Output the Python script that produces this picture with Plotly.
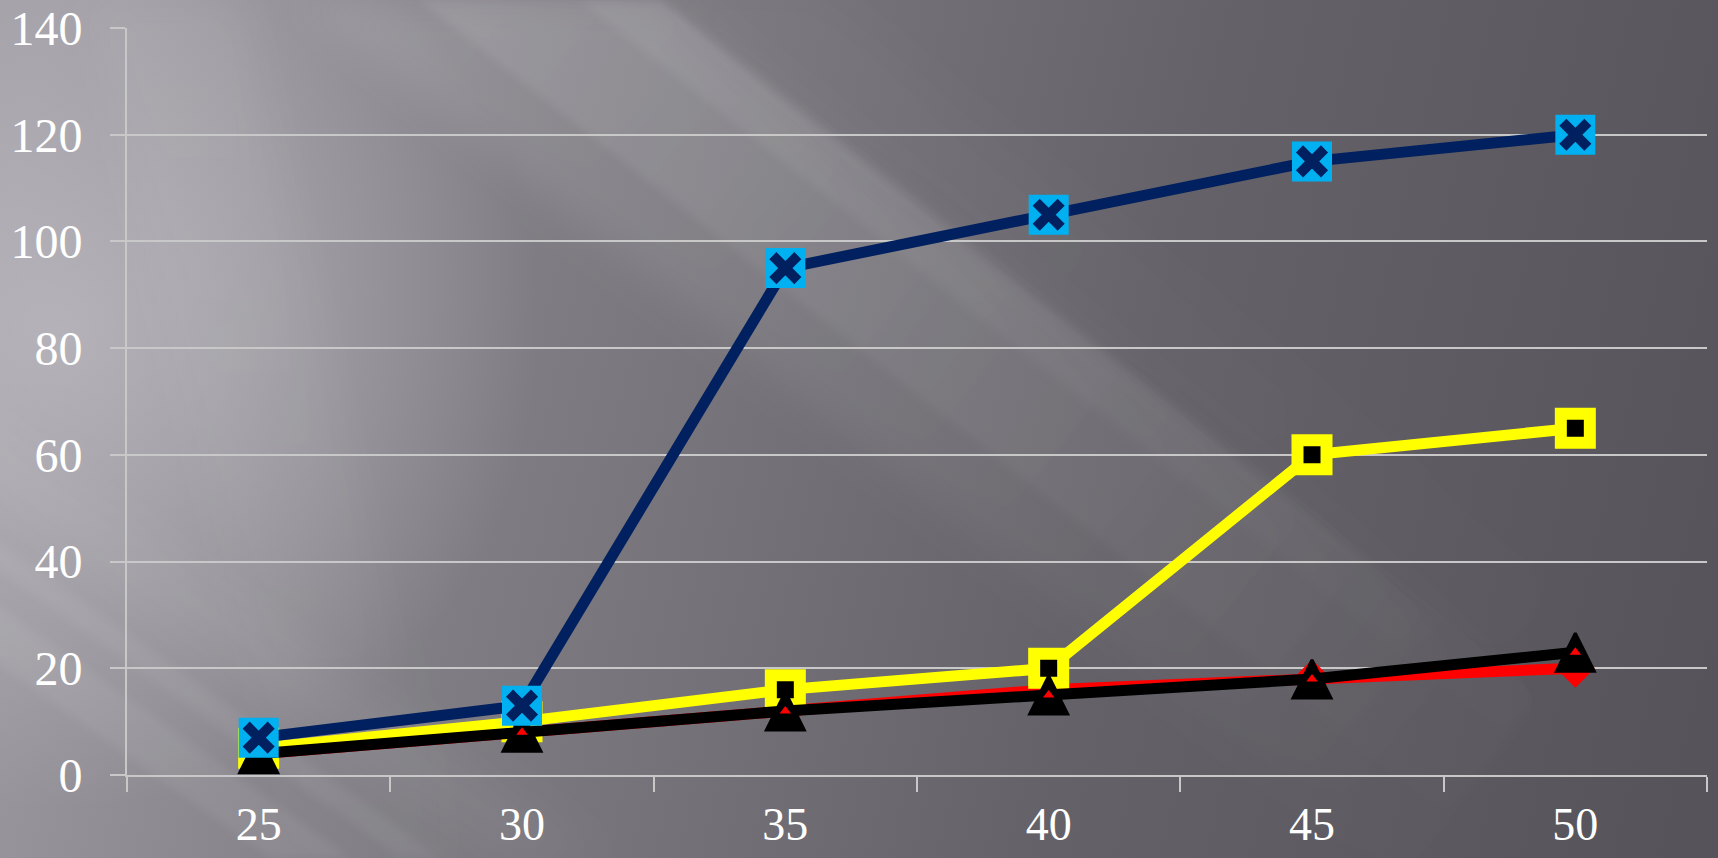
import base64
import plotly.graph_objects as go

categories = ["25", "30", "35", "40", "45", "50"]
navy_values = [7, 13, 95, 105, 115, 120]
yellow_values = [5, 10, 16, 20, 60, 65]
red_values = [4, 8, 12, 16, 18, 20]
black_values = [4, 8, 12, 15, 18, 23]
y_ticks = [0, 20, 40, 60, 80, 100, 120, 140]

W, H = 1718, 858
ML, MR, MT, MB = 127, 11, 28, 83

# background (gradient with diagonal light streaks)
def band(x0, x1, k, op, fill="#ffffff", blur="b"):
    pts = f"{x0},0 {x1},0 {x1 + k * H},{H} {x0 + k * H},{H}"
    return f"<polygon points='{pts}' fill='{fill}' fill-opacity='{op}' filter='url(#{blur})'/>"

svg = (
    f"<svg xmlns='http://www.w3.org/2000/svg' width='{W}' height='{H}'>"
    "<defs>"
    "<filter id='b' x='-20%' y='-20%' width='140%' height='140%'><feGaussianBlur stdDeviation='4'/></filter>"
    "<filter id='bb' x='-20%' y='-20%' width='140%' height='140%'><feGaussianBlur stdDeviation='20'/></filter>"
    "<linearGradient id='g' x1='0' y1='250' x2='1718' y2='650' gradientUnits='userSpaceOnUse'>"
    "<stop offset='0' stop-color='#9e9ca2'/>"
    "<stop offset='0.3' stop-color='#7f7d83'/>"
    "<stop offset='0.65' stop-color='#646268'/>"
    "<stop offset='1' stop-color='#56545a'/>"
    "</linearGradient>"
    "<radialGradient id='r' cx='60' cy='330' r='480' gradientUnits='userSpaceOnUse'>"
    "<stop offset='0' stop-color='#c0bec4' stop-opacity='0.7'/>"
    "<stop offset='1' stop-color='#c0bec4' stop-opacity='0'/>"
    "</radialGradient>"
    "<linearGradient id='fa' x1='500' y1='0' x2='1500' y2='800' gradientUnits='userSpaceOnUse'>"
    "<stop offset='0' stop-color='#ffffff' stop-opacity='1'/>"
    "<stop offset='0.55' stop-color='#ffffff' stop-opacity='0.5'/>"
    "<stop offset='1' stop-color='#ffffff' stop-opacity='0'/>"
    "</linearGradient>"
    "<linearGradient id='fl' x1='0' y1='0' x2='0' y2='858' gradientUnits='userSpaceOnUse'>"
    "<stop offset='0' stop-color='#ffffff' stop-opacity='1'/>"
    "<stop offset='1' stop-color='#ffffff' stop-opacity='0.2'/>"
    "</linearGradient>"
    "</defs>"
    f"<rect width='{W}' height='{H}' fill='url(#g)'/>"
    f"<rect width='{W}' height='{H}' fill='url(#r)'/>"
    # main bright diagonal band from the top
    + band(300, 660, 1.26, 0.10, "url(#fa)", "bb")
    + band(420, 660, 1.26, 0.08, "url(#fa)")
    + band(580, 662, 1.26, 0.07, "url(#fa)")
    + band(662, 820, 1.26, 0.03, "url(#fa)", "bb")
    # left steep light band
    + band(90, 240, 0.24, 0.06, "url(#fl)", "bb")
    # lower-left streaks
    + band(-930, -850, 1.4, 0.06)
    + band(-800, -760, 1.4, 0.05)
    + band(-700, -600, 1.4, 0.04, "#ffffff", "bb")
    + "</svg>"
)
bg_uri = "data:image/svg+xml;base64," + base64.b64encode(svg.encode()).decode()

NAVY = "#002060"
LIGHTBLUE = "#00B0F0"
YELLOW = "#FFFF00"
RED = "#FF0000"
BLACK = "#000000"
LW = 11

fig = go.Figure()

# red series
fig.add_trace(go.Scatter(
    x=categories, y=red_values, mode="lines+markers",
    line=dict(color=RED, width=LW),
    marker=dict(symbol="diamond", size=30, color=RED, line=dict(width=0)),
))
# yellow series
fig.add_trace(go.Scatter(
    x=categories, y=yellow_values, mode="lines+markers",
    line=dict(color=YELLOW, width=LW),
    marker=dict(symbol="square", size=29, color=BLACK, line=dict(color=YELLOW, width=12)),
))
# black series
fig.add_trace(go.Scatter(
    x=categories, y=black_values, mode="lines+markers",
    line=dict(color=BLACK, width=LW),
    marker=dict(symbol="arrow-down", size=38, angle=180, standoff=19, color=BLACK,
                line=dict(color=BLACK, width=3)),
))
fig.add_trace(go.Scatter(
    x=categories, y=black_values, mode="markers",
    marker=dict(symbol="triangle-up", size=10, color=RED, line=dict(width=0)),
))
# navy series
fig.add_trace(go.Scatter(
    x=categories, y=navy_values, mode="lines+markers",
    line=dict(color=NAVY, width=LW),
    marker=dict(symbol="square", size=36, color=LIGHTBLUE, line=dict(color=LIGHTBLUE, width=4)),
))
fig.add_trace(go.Scatter(
    x=categories, y=navy_values, mode="markers",
    marker=dict(symbol="x-thin-open", size=25, color=NAVY, line=dict(color=NAVY, width=10)),
))

FONT_FAMILY = "Liberation Serif, DejaVu Serif, serif"
GRID = "#c8c8c8"

fig.update_layout(
    width=W, height=H,
    margin=dict(l=ML, r=MR, t=MT, b=MB, pad=0, autoexpand=False),
    paper_bgcolor="rgba(0,0,0,0)",
    plot_bgcolor="rgba(0,0,0,0)",
    showlegend=False,
    images=[dict(
        source=bg_uri, xref="paper", yref="paper",
        x=-ML / (W - ML - MR), y=1 + MT / (H - MT - MB),
        sizex=W / (W - ML - MR), sizey=H / (H - MT - MB),
        xanchor="left", yanchor="top", sizing="stretch", layer="below",
    )],
    xaxis=dict(
        type="category", range=[-0.5, 5.5], automargin=False,
        showgrid=False, zeroline=False,
        showline=True, linecolor=GRID, linewidth=2,
        ticks="outside", ticklen=15, tickwidth=2, tickcolor=GRID,
        tickson="boundaries",
        tickfont=dict(family=FONT_FAMILY, size=46, color="#ffffff"),
        ticklabelstandoff=8,
    ),
    yaxis=dict(
        range=[0, 140], tickvals=y_ticks, automargin=False,
        showgrid=True, gridcolor=GRID, gridwidth=2,
        zeroline=False,
        showline=True, linecolor=GRID, linewidth=2,
        ticks="outside", ticklen=15, tickwidth=2, tickcolor=GRID,
        tickfont=dict(family=FONT_FAMILY, size=48, color="#ffffff"),
        ticklabelstandoff=18,
    ),
)

fig.write_html(
    "out.html",
    post_script="document.body.style.margin='0';document.body.style.overflow='hidden';",
)
